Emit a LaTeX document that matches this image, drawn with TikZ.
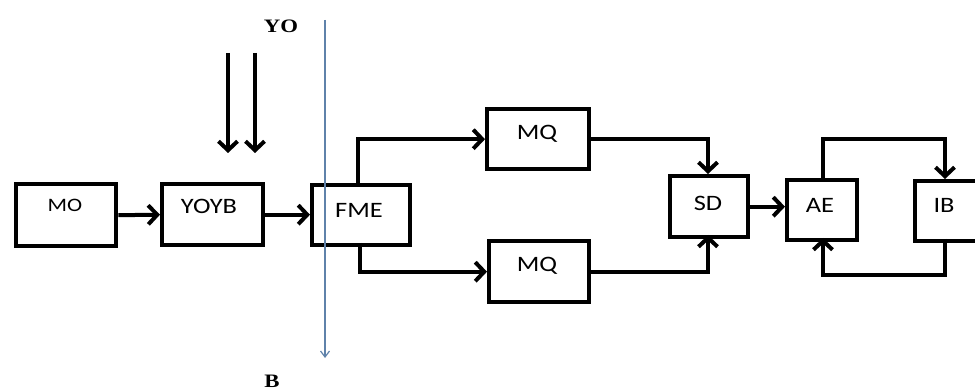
\documentclass[tikz,border=0pt]{standalone}
\usepackage{fontspec}
\setmainfont{Carlito}
\newfontfamily\labelserif{Liberation Serif}
\usetikzlibrary{arrows.meta}
\definecolor{cutblue}{RGB}{95,130,170}
\newcommand{\wide}[1]{\scalebox{1.2}[1]{#1}}
\tikzset{
  blk/.style={draw=black, line width=4.4pt, fill=white, inner sep=0pt, anchor=north west},
  flow/.style={draw=black, line width=4pt, -{Straight Barb[length=9pt,width=19pt,line width=4pt]}},
  lbl/.style={anchor=base, inner sep=0pt, font=\fontsize{22}{22}\selectfont},
  smalllbl/.style={lbl, font=\fontsize{19}{19}\selectfont},
  cutlbl/.style={font=\labelserif\bfseries\fontsize{19}{19}\selectfont, inner sep=0pt}
}
\begin{document}
\begin{tikzpicture}[x=1pt,y=-1pt]
\useasboundingbox (0,0) rectangle (975,390);
% blocks (top-left corner, width, height)
\node[blk, minimum width=100pt, minimum height=62pt] (mo) at (14,182) {};
\node[blk, minimum width=101pt, minimum height=61pt] (yoyb) at (160,182) {};
\node[blk, minimum width=98pt, minimum height=60pt] (fme) at (310,183) {};
\node[blk, minimum width=102pt, minimum height=60pt] (mq1) at (485,107) {};
\node[blk, minimum width=100pt, minimum height=61pt] (mq2) at (487,239) {};
\node[blk, minimum width=78pt, minimum height=61pt] (sd) at (668,174) {};
\node[blk, minimum width=70pt, minimum height=60pt] (ae) at (785,178) {};
\node[blk, minimum width=72pt, minimum height=60pt] (ib) at (913,179) {};

% block captions (placed on their baselines)
\node[smalllbl] (mot) at (65,212) {\wide{MO}};
\node[lbl] (yoybt) at (209,214) {\wide{YOYB}};
\node[lbl] (fmet) at (359,218) {\wide{FME}};
\node[lbl] (mq1t) at (537,140) {\wide{MQ}};
\node[lbl] (mq2t) at (537,272) {\wide{MQ}};
\node[lbl] (sdt) at (708,211) {\wide{SD}};
\node[lbl] (aet) at (820,213) {\wide{AE}};
\node[lbl] (ibt) at (944,213) {\wide{IB}};

% cut line
\coordinate (cuttop) at (325,20);
\coordinate (cutbot) at (325,358);
\draw[cutblue, line width=1.2pt, -{Straight Barb[length=6pt,width=9pt]}] (cuttop) -- (cutbot);
\node[cutlbl] (yo) at (281,26) {\scalebox{1.2}[1]{YO}};
\node[cutlbl, anchor=north] (b) at (272,375) {\scalebox{1.2}[1]{B}};

% inputs
\coordinate (in1) at (228,53);
\coordinate (in2) at (255,53);
\coordinate (in1e) at (228,153);
\coordinate (in2e) at (255,153);
\draw[flow] (in1) -- (in1e);
\draw[flow] (in2) -- (in2e);

% main chain
\draw[flow] (mo.east) -- (yoyb.west);
\draw[flow] (yoyb.east) -- (fme.west |- yoyb.east);
\draw[flow] (358,183) |- (mq1.west);
\draw[flow] (360,243) |- (mq2.west);
\draw[flow] (mq1.east) -| (708,174);
\draw[flow] (mq2.east) -| (708,235);
\draw[flow] (sd.east) -- (sd.east -| ae.west);
\draw[flow] (823,178) |- (945,139) -- (945,179);
\draw[flow] (945,239) |- (823,275) -- (823,238);
\end{tikzpicture}
\end{document}
